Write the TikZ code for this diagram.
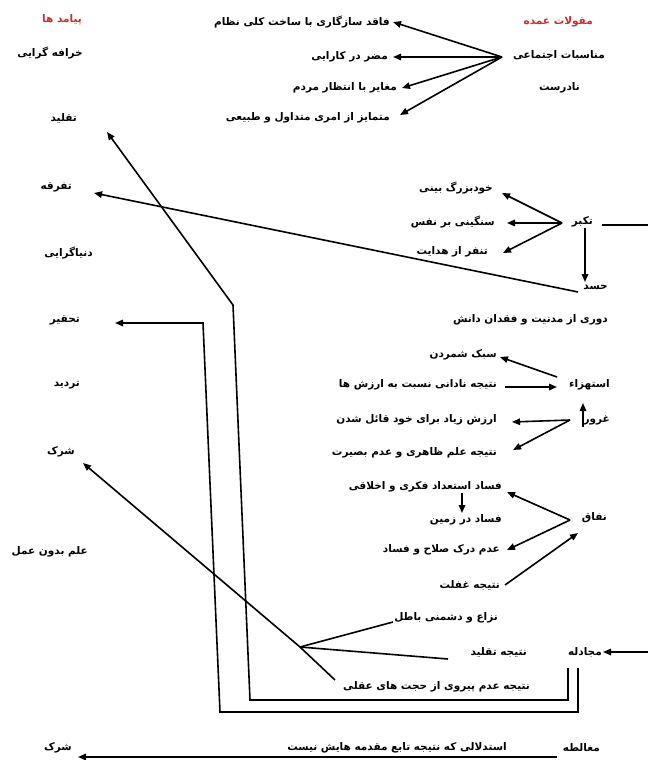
\documentclass[tikz,border=0pt]{standalone}
\usepackage{fontspec}
\usetikzlibrary{arrows.meta,calc}
\TeXXeTstate=1
\newfontfamily\arabicfont[Script=Arabic]{DejaVu Sans}
\newcommand{\fa}[1]{{\arabicfont\bfseries\beginR #1\endR}}
\definecolor{hdred}{RGB}{205,45,45}
\begin{document}
\begin{tikzpicture}[x=1pt,y=-1pt,
  lbl/.style={inner sep=0pt, anchor=east, font=\fontsize{10.5}{12}\selectfont},
  hdr/.style={lbl, text=hdred},
  arr/.style={-{Triangle[length=8pt,width=6.5pt]}, line width=1.6pt},
  ln/.style={line width=1.6pt}]
\useasboundingbox[fill=white] (0,0) rectangle (648,760);

% headers
\node[hdr] (maqulat) at (593,22) {\fa{مقولات عمده}};
\node[hdr] (payamad) at (82,20) {\fa{پیامد ها}};

% left column
\node[lbl] (khorafe) at (83,53) {\fa{خرافه گرایی}};
\node[lbl] (taqlid) at (77,118) {\fa{تقلید}};
\node[lbl] (tafraqe) at (72,187) {\fa{تفرقه}};
\node[lbl] (donya) at (93,253) {\fa{دنیاگرایی}};
\node[lbl] (tahqir) at (80,320) {\fa{تحقیر}};
\node[lbl] (tardid) at (80,385) {\fa{تردید}};
\node[lbl] (shirka) at (75,452) {\fa{شرک}};
\node[lbl] (elm) at (88,552) {\fa{علم بدون عمل}};
\node[lbl] (shirkb) at (72,748) {\fa{شرک}};

% top group
\node[lbl] (manasebat) at (605,55) {\fa{مناسبات اجتماعی}};
\node[lbl] (nadorost) at (580,88) {\fa{نادرست}};
\node[lbl] (faqed) at (390,22) {\fa{فاقد سازگاری با ساخت کلی نظام}};
\node[lbl] (mozer) at (388,57) {\fa{مضر در کارایی}};
\node[lbl] (moghayer) at (397,88) {\fa{مغایر با انتظار مردم}};
\node[lbl] (motamayez) at (390,118) {\fa{متمایز از امری متداول و طبیعی}};

% takabbor group
\node[lbl] (takabor) at (593,222) {\fa{تکبر}};
\node[lbl] (khod) at (493,188) {\fa{خودبزرگ بینی}};
\node[lbl] (sangini) at (495,222) {\fa{سنگینی بر نفس}};
\node[lbl] (tanaffor) at (488,252) {\fa{تنفر از هدایت}};
\node[lbl] (hasad) at (608,287) {\fa{حسد}};
\node[lbl] (duri) at (608,320) {\fa{دوری از مدنیت و فقدان دانش}};

% estehza group
\node[lbl] (sabok) at (497,355) {\fa{سبک شمردن}};
\node[lbl] (estehza) at (610,385) {\fa{استهزاء}};
\node[lbl] (nadani) at (497,385) {\fa{نتیجه نادانی نسبت به ارزش ها}};
\node[lbl] (ghorur) at (610,420) {\fa{غرور}};
\node[lbl] (arzesh) at (497,420) {\fa{ارزش زیاد برای خود قائل شدن}};
\node[lbl] (zaheri) at (497,453) {\fa{نتیجه علم ظاهری و عدم بصیرت}};

% nefaq group
\node[lbl] (fesada) at (502,487) {\fa{فساد استعداد فکری و اخلاقی}};
\node[lbl] (fesadb) at (502,520) {\fa{فساد در زمین}};
\node[lbl] (nefaq) at (607,518) {\fa{نفاق}};
\node[lbl] (adam) at (500,550) {\fa{عدم درک صلاح و فساد}};
\node[lbl] (ghaflat) at (500,585) {\fa{نتیجه غفلت}};

% mojadele group
\node[lbl] (neza) at (498,618) {\fa{نزاع و دشمنی باطل}};
\node[lbl] (nattaqlid) at (527,652) {\fa{نتیجه تقلید}};
\node[lbl] (mojadele) at (602,652) {\fa{مجادله}};
\node[lbl] (peyravi) at (530,687) {\fa{نتیجه عدم پیروی از حجت های عقلی}};

% bottom
\node[lbl] (moghalete) at (600,748) {\fa{مغالطه}};
\node[lbl] (estedlal) at (507,748) {\fa{استدلالی که نتیجه تابع مقدمه هایش نیست}};

% hub coordinates and free ends
\coordinate (hubA) at (502,57);
\coordinate (hubB) at (562,223);
\coordinate (hubC) at (557,377);
\coordinate (hubD) at (570,420);
\coordinate (hubE) at (570,520);
\coordinate (hubF) at (300,647);
\coordinate (edgeT) at (648,225);
\coordinate (edgeM) at (648,652);
\coordinate (bendTa) at (233,305);
\coordinate (bendTb) at (250,700);
\coordinate (bendTc) at (568,700);
\coordinate (bendHa) at (203,323);
\coordinate (bendHb) at (220,712);
\coordinate (bendHc) at (578,712);

% top arrows
\draw[arr] (hubA) -- ($(faqed.east)+(3,0)$);
\draw[arr] (hubA) -- ($(mozer.east)+(5,0)$);
\draw[arr] (hubA) -- ($(moghayer.east)+(5,0)$);
\draw[arr] (hubA) -- ($(motamayez.east)+(10,-3)$);

% takabbor
\draw[ln] ($(takabor.east)+(9,3)$) -- (edgeT);
\draw[arr] (hubB) -- ($(khod.east)+(9,5)$);
\draw[arr] (hubB) -- ($(sangini.east)+(12,1)$);
\draw[arr] (hubB) -- ($(tanaffor.east)+(15,1)$);
\draw[arr] ($(takabor.east)+(-8,6)$) -- ($(hasad.east)+(-23,-5)$);
\draw[arr] ($(hasad.east)+(-30,5)$) -- ($(tafraqe.east)+(22,6)$);

% estehza
\draw[arr] (hubC) -- ($(sabok.east)+(3,2)$);
\draw[arr] ($(nadani.east)+(8,2)$) -- ($(estehza.east)+(-53,2)$);
\draw[arr] ($(ghorur.east)+(-27,7)$) -- ($(estehza.east)+(-27,18)$);
\draw[arr] (hubD) -- ($(arzesh.east)+(15,2)$);
\draw[arr] (hubD) -- ($(zaheri.east)+(16,-3)$);

% nefaq
\draw[arr] (hubE) -- ($(fesada.east)+(5,5)$);
\draw[arr] (hubE) -- ($(adam.east)+(7,0)$);
\draw[arr] ($(ghaflat.east)+(5,0)$) -- ($(nefaq.east)+(-29,15)$);
\draw[arr] ($(fesada.east)+(-40,6)$) -- ($(fesadb.east)+(-40,-7)$);

% mojadele
\draw[arr] (edgeM) -- ($(mojadele.east)+(1,0)$);
\draw[ln] (hubF) -- ($(neza.east)+(-105,4)$);
\draw[ln] (hubF) -- ($(nattaqlid.east)+(-79,7)$);
\draw[arr] ($(peyravi.east)+(-195,-7)$) -- (hubF) -- ($(shirka.east)+(8,11)$);
\draw[arr] ($(mojadele.east)+(-34,16)$) -- (bendTc) -- (bendTb) -- (bendTa) -- ($(taqlid.east)+(30,14)$);
\draw[arr] ($(mojadele.east)+(-24,16)$) -- (bendHc) -- (bendHb) -- (bendHa) -- ($(tahqir.east)+(35,3)$);

% bottom
\draw[arr] ($(estedlal.east)+(50,9)$) -- ($(shirkb.east)+(6,9)$);
\end{tikzpicture}
\end{document}
